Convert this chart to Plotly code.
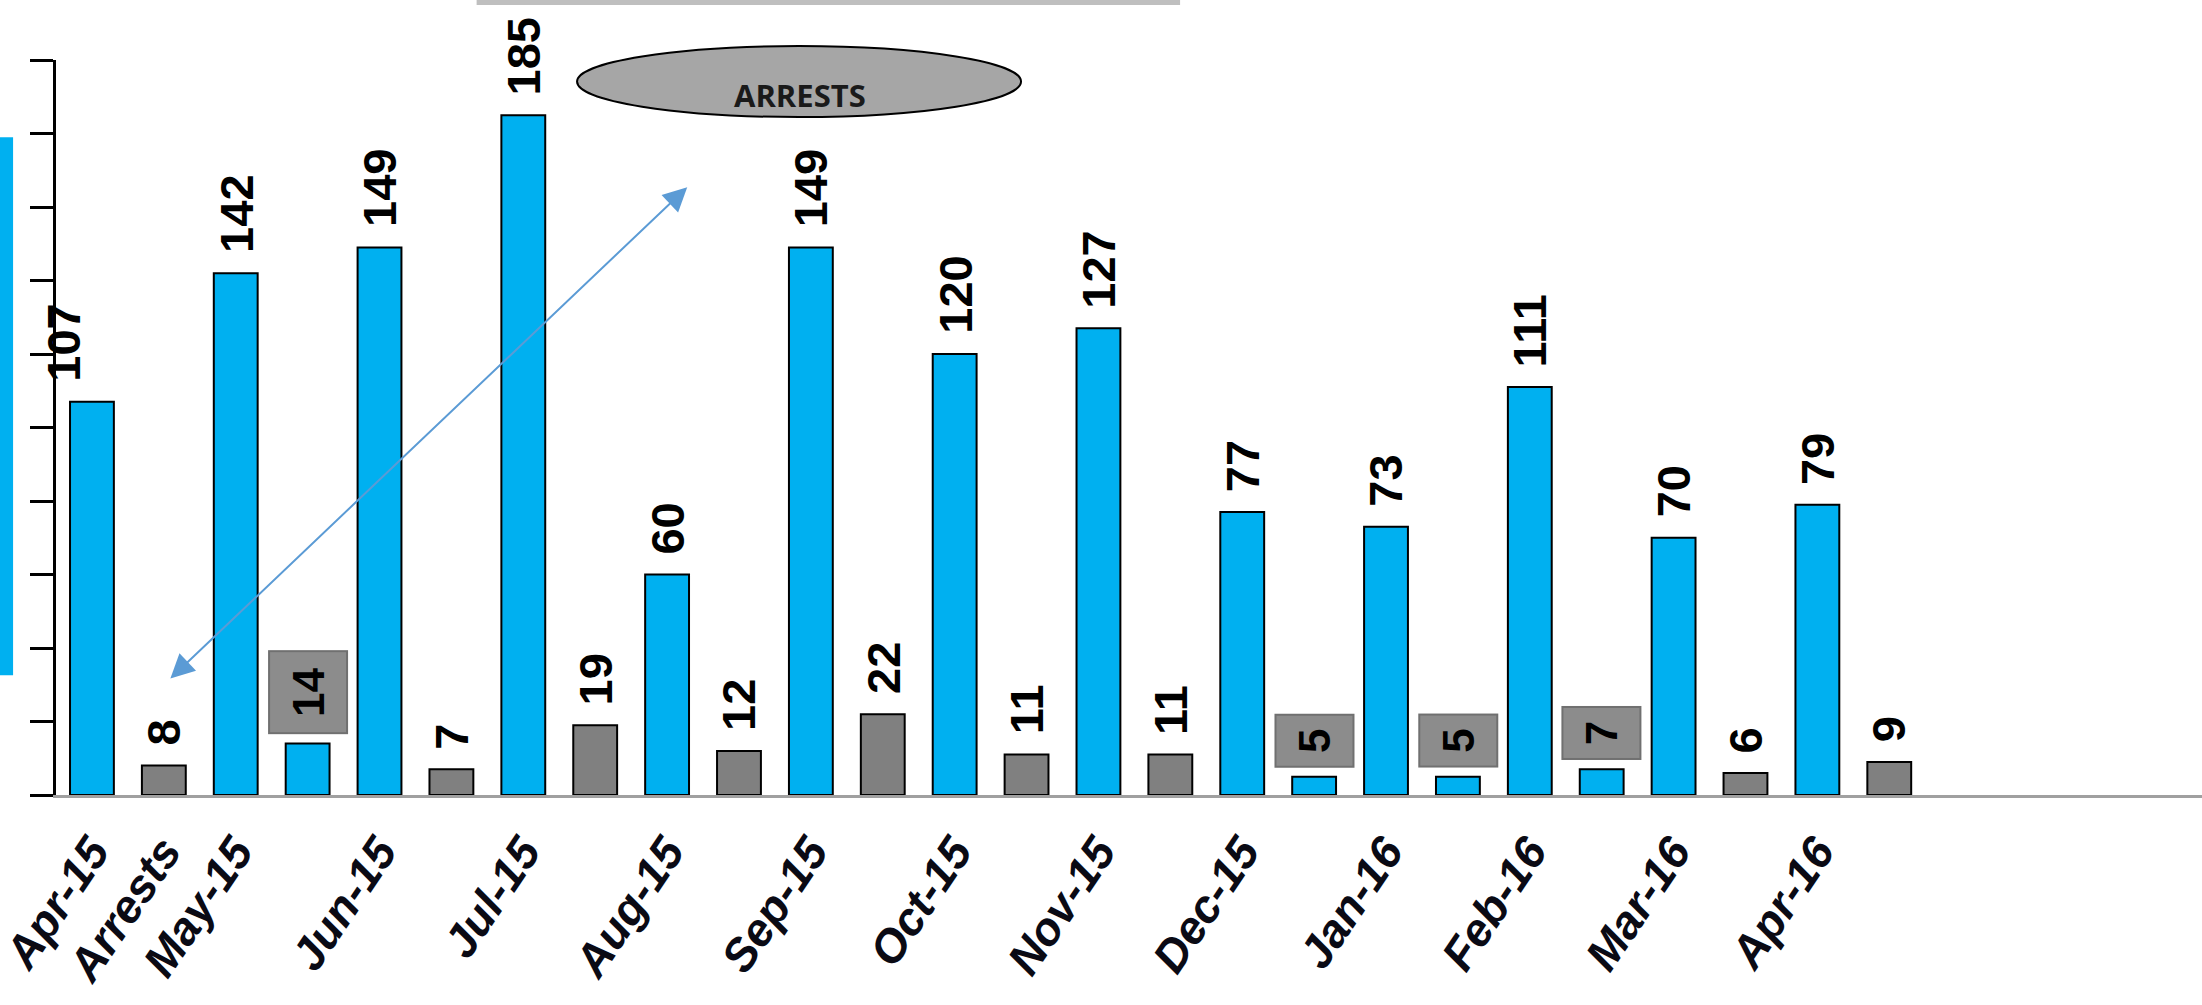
import plotly.graph_objects as go

# ---- data ----
values = [107, 8, 142, 14, 149, 7, 185, 19, 60, 12, 149, 22, 120, 11, 127, 11,
          77, 5, 73, 5, 111, 7, 70, 6, 79, 9]
bar_kind = ["m", "a", "m", "m", "m", "a", "m", "a", "m", "a", "m", "a", "m", "a",
            "m", "a", "m", "m", "m", "m", "m", "m", "m", "a", "m", "a"]
boxed_labels = [3, 17, 19, 21]
tick_positions = [0, 1, 2, 4, 6, 8, 10, 12, 14, 16, 18, 20, 22, 24]
tick_labels = ["Apr-15", "Arrests", "May-15", "Jun-15", "Jul-15", "Aug-15", "Sep-15",
               "Oct-15", "Nov-15", "Dec-15", "Jan-16", "Feb-16", "Mar-16", "Apr-16"]

BLUE = "#00b0f0"
GRAY = "#808080"
xs = list(range(len(values)))
colors = [BLUE if k == "m" else GRAY for k in bar_kind]

fig = go.Figure()
fig.add_trace(go.Bar(
    x=xs, y=values, width=0.61,
    marker=dict(color=colors, line=dict(color="black", width=2)),
    hoverinfo="skip", showlegend=False,
))

annotations = []
for i, v in enumerate(values):
    if i in boxed_labels:
        annotations.append(dict(
            x=i, y=v, xref="x", yref="y", text=str(v), showarrow=False,
            textangle=-90, yanchor="bottom", xanchor="center", yshift=9,
            font=dict(family="Liberation Sans", size=44, color="black", weight="bold"),
            bgcolor="#8c8c8c", bordercolor="#707070", borderwidth=2, borderpad=0,
            width=(80 if v >= 10 else 50), height=76,
        ))
    else:
        annotations.append(dict(
            x=i, y=v, xref="x", yref="y", text=str(v), showarrow=False,
            textangle=-90, yanchor="bottom", xanchor="center", yshift=18,
            xshift=(-28 if i == 0 else 0),
            font=dict(family="Liberation Sans", size=47, color="black", weight="bold"),
        ))

# ARRESTS label in the ellipse
annotations.append(dict(
    x=0.3467, y=0.953, xref="paper", yref="paper", text="ARRESTS", showarrow=False,
    xanchor="center", yanchor="middle",
    font=dict(family="Open Sans", size=31, color="#1a1a1a", weight="bold"),
))

# double-headed blue arrow
annotations.append(dict(
    x=8.28, y=165.4, xref="x", yref="y", ax=1.07, ay=31.3, axref="x", ayref="y",
    text="", showarrow=True, arrowside="end+start", arrowhead=2, startarrowhead=2,
    arrowsize=2.4, startarrowsize=2.4, arrowwidth=2, arrowcolor="#5b9bd5",
    standoff=0, startstandoff=0,
))

shapes = [
    # ellipse
    dict(type="circle", xref="paper", yref="paper", x0=0.2428, x1=0.4497,
         y0=0.9224, y1=1.019, fillcolor="#a6a6a6", line=dict(color="black", width=2),
         layer="above"),
    # gray line at top
    dict(type="rect", xref="paper", yref="paper", x0=0.196, x1=0.5238,
         y0=1.0748, y1=1.0816, fillcolor="#bfbfbf", line=dict(width=0)),
    # blue stripe on the left
    dict(type="rect", xref="paper", yref="paper", x0=-0.0261, x1=-0.0200,
         y0=0.163, y1=0.895, fillcolor=BLUE, line=dict(width=0)),
]

fig.update_layout(
    width=2202, height=1005,
    margin=dict(l=56, r=0, t=60, b=210, autoexpand=False),
    plot_bgcolor="white", paper_bgcolor="white",
    annotations=annotations, shapes=shapes,
    bargap=0.4,
)
fig.update_xaxes(
    range=[-0.5, 29.35], tickmode="array", tickvals=tick_positions, ticktext=tick_labels,
    tickangle=-56, ticks="", showgrid=False, zeroline=False,
    showline=True, linecolor="#a0a0a0", linewidth=3,
    tickfont=dict(family="Liberation Sans", size=46, color="#0a0a14",
                  weight="bold", style="italic"),
    ticklabelstandoff=8, ticklabeloverflow="allow",
)
fig.update_yaxes(
    range=[0, 200], dtick=20, tick0=0, ticks="outside", ticklen=23, tickwidth=3,
    tickcolor="black", showticklabels=False, showgrid=False, zeroline=False,
    showline=True, linecolor="black", linewidth=3,
)

fig.write_html(
    "out.html",
    config={"displayModeBar": False},
    post_script="document.body.style.margin='0';document.body.style.overflow='hidden';",
)
